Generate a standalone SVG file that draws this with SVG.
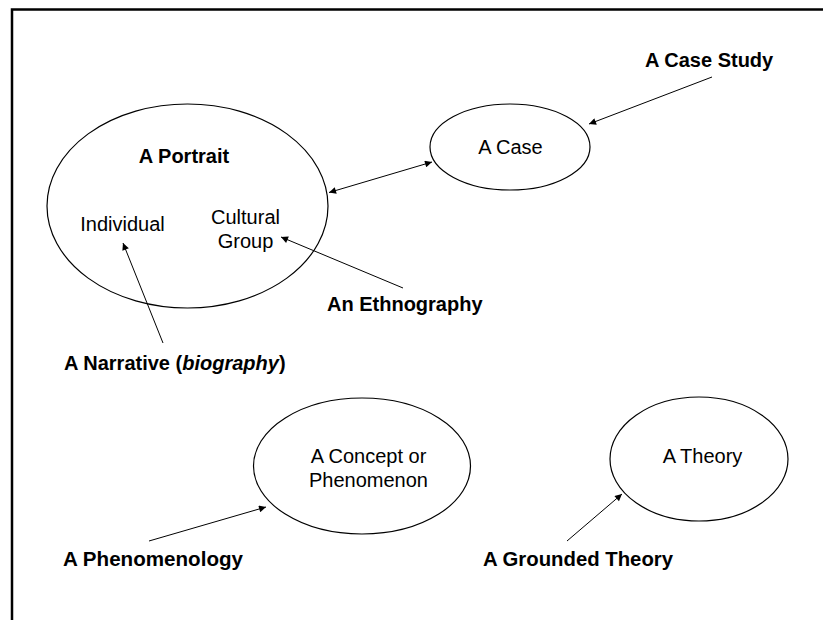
<svg xmlns="http://www.w3.org/2000/svg" width="823" height="620" viewBox="0 0 823 620">
<defs>
<marker id="ah" viewBox="0 0 10 10" refX="10" refY="5" markerWidth="9" markerHeight="7" markerUnits="userSpaceOnUse" orient="auto-start-reverse">
<path d="M0,0 L10,5 L0,10 Z" fill="#000"/>
</marker>
<style>
.e{fill:#fff;stroke:#000;stroke-width:1.2}
.t{font-family:"Liberation Sans",Arial,sans-serif;font-size:20px;fill:#000}
.b{font-weight:bold}
.c{stroke:#000;stroke-width:1;fill:none;marker-end:url(#ah)}
</style>
</defs>
<rect width="823" height="620" fill="#fff"/>
<path d="M12,620 V9.5 H823" fill="none" stroke="#000" stroke-width="2.5"/>
<g id="portrait">
<ellipse class="e" cx="187.5" cy="206" rx="140.5" ry="102"/>
<text class="t b" x="184" y="163" text-anchor="middle">A Portrait</text>
<text class="t" x="122.5" y="231" text-anchor="middle">Individual</text>
<text class="t" x="245.5" y="224" text-anchor="middle">Cultural</text>
<text class="t" x="245.5" y="248" text-anchor="middle">Group</text>
</g>
<g id="case">
<ellipse class="e" cx="510" cy="147" rx="80" ry="43"/>
<text class="t" x="510.5" y="154" text-anchor="middle">A Case</text>
</g>
<g id="concept">
<ellipse class="e" cx="362" cy="466" rx="108.5" ry="68"/>
<text class="t" x="368.5" y="463" text-anchor="middle">A Concept or</text>
<text class="t" x="368.5" y="487" text-anchor="middle">Phenomenon</text>
</g>
<g id="theory">
<ellipse class="e" cx="699" cy="459" rx="89" ry="62"/>
<text class="t" x="702.5" y="463" text-anchor="middle">A Theory</text>
</g>
<g id="case-study"><text class="t b" x="645" y="67">A Case Study</text></g>
<g id="ethnography"><text class="t b" x="327" y="311">An Ethnography</text></g>
<g id="narrative"><text class="t b" x="64" y="370">A Narrative (<tspan font-style="italic">biography</tspan>)</text></g>
<g id="phenomenology"><text class="t b" x="63" y="566" textLength="180" lengthAdjust="spacingAndGlyphs">A Phenomenology</text></g>
<g id="grounded"><text class="t b" x="483" y="566" textLength="190" lengthAdjust="spacingAndGlyphs">A Grounded Theory</text></g>
<g id="connectors">
<line class="c" x1="712" y1="77" x2="589" y2="124"/>
<line class="c" x1="329" y1="192.5" x2="432" y2="162" style="marker-start:url(#ah)"/>
<line class="c" x1="403" y1="288" x2="281" y2="237"/>
<line class="c" x1="163" y1="343" x2="123" y2="243"/>
<line class="c" x1="149" y1="541" x2="266" y2="507"/>
<line class="c" x1="567" y1="541" x2="622" y2="494"/>
</g>
</svg>
